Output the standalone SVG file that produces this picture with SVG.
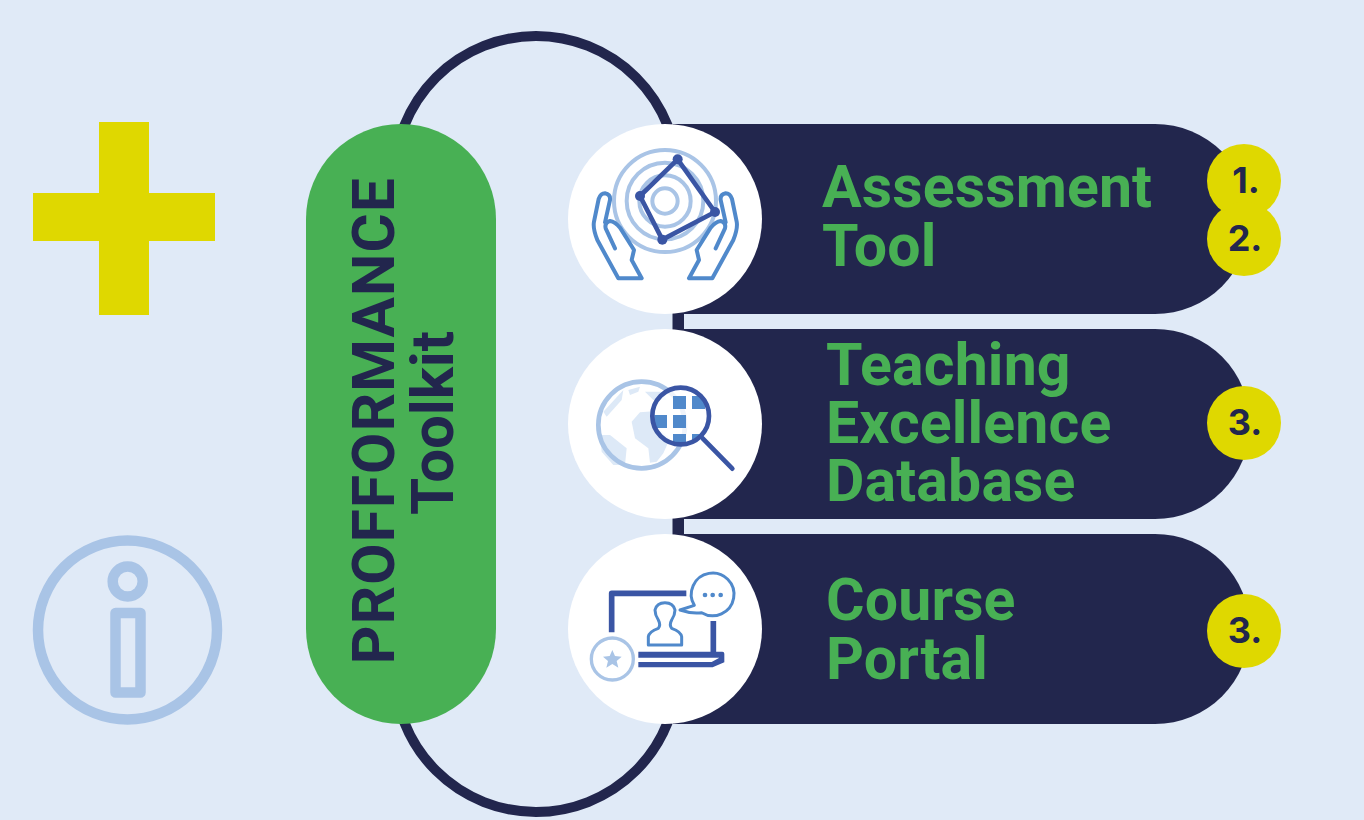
<svg xmlns="http://www.w3.org/2000/svg" width="1364" height="820" viewBox="0 0 1364 820">
<style>
.t{font-family:Roboto,"Liberation Sans",sans-serif;font-weight:700;font-size:59px;letter-spacing:.15px;fill:#48b054}
.v{font-family:Roboto,"Liberation Sans",sans-serif;font-weight:700;font-size:60px;fill:#22264d}
.n{font-family:Inter,"Liberation Sans",sans-serif;font-weight:700;font-size:36px;fill:#22264d;text-anchor:middle}
.bar{fill:#22264d}.disc{fill:#fff}.y{fill:#dfd800}
.lt{fill:none;stroke:#a9c4e6;stroke-width:12}
.md{fill:none;stroke:#5089cb;stroke-width:12;stroke-linecap:round;stroke-linejoin:round}
.thin{stroke-width:9}
.dk{fill:none;stroke:#3a55a4;stroke-width:14;stroke-linecap:round;stroke-linejoin:round}
.sq{fill:#5089cb}.land{fill:#dde9f7}
</style>
<defs>
<clipPath id="lens"><circle cx="362" cy="273" r="82"/></clipPath>
<g id="hand"><path class="md" d="M165,400 L137,340 Q133,322 150,318 Q165,320 180,338 L222,405 L215,435 L245,490 H175 L112,375 Q98,340 102,320 L116,252 Q122,235 135,235 Q152,238 150,255 L135,322"/></g>
</defs>
<rect width="1364" height="820" fill="#e0eaf7"/>
<g id="connectors" fill="none" stroke="#22264d" stroke-width="10">
<rect x="394.5" y="36" width="283" height="776" rx="141.5" ry="141.5"/>
<path d="M679,290V560"/>
</g>
<g id="plus"><path class="y" d="M99,122H149V193H215V241H149V315H99V241H33V193H99Z"/></g>
<g id="info" fill="none" stroke="#a9c4e6" stroke-width="10.5">
<circle cx="127.5" cy="630" r="89.5"/><circle cx="127.7" cy="581.5" r="15"/>
<rect x="115.5" y="613" width="25" height="79.5" stroke-linejoin="round"/>
</g>
<g id="toolkit">
<rect x="306" y="124" width="190" height="600" rx="95" fill="#48b054"/>
<text class="v" text-anchor="middle" letter-spacing="1.2" transform="translate(393.5,420.6) rotate(-90)">PROFFORMANCE</text>
<text class="v" text-anchor="middle" transform="translate(452.5,423) rotate(-90)">Toolkit</text>
</g>
<g id="assessment">
<rect class="bar" x="673" y="124" width="577" height="190" rx="95"/>
<rect class="bar" x="673" y="124" width="100" height="190"/>
<ellipse class="disc" cx="665" cy="219" rx="97" ry="95"/>
<g transform="translate(560,115) scale(.33333)">
<circle class="lt" cx="315" cy="258" r="153"/><circle class="lt" cx="315" cy="258" r="115"/><circle class="lt" cx="315" cy="258" r="77"/><circle class="lt" cx="315" cy="258" r="38"/>
<use href="#hand"/><use href="#hand" transform="matrix(-1 0 0 1 632 0)"/>
<path class="dk" d="M353,133L465,291L307,374L240,243Z"/>
<g fill="#3a55a4"><circle cx="353" cy="133" r="15"/><circle cx="465" cy="291" r="15"/><circle cx="307" cy="374" r="15"/><circle cx="240" cy="243" r="15"/></g>
</g>
<text class="t" x="822" y="207">Assessment</text><text class="t" x="822" y="266">Tool</text>
<circle class="y" cx="1244" cy="181" r="37"/><text class="n" x="1246" y="193">1.</text>
<circle class="y" cx="1244" cy="239" r="37"/><text class="n" x="1245" y="251">2.</text>
</g>
<g id="database">
<rect class="bar" x="673" y="329" width="577" height="190" rx="95"/>
<rect class="bar" x="673" y="329" width="100" height="190"/>
<ellipse class="disc" cx="665" cy="424" rx="97" ry="95"/>
<g transform="translate(560,325) scale(.33333)">
<path class="land" d="M205,195L240,185L235,200L210,210ZM130,260L190,195L185,225L140,275ZM255,200L305,200L320,225L280,225ZM215,290L240,262L290,258L270,290L330,340L310,385L290,410L270,413L265,370L225,340ZM120,330L150,330L200,370L195,420L160,420L125,380Z"/>
<circle cx="245" cy="300" r="130" fill="none" stroke="#a9c4e6" stroke-width="14"/>
<circle cx="362" cy="273" r="85" fill="#fff" fill-opacity=".8"/>
<g clip-path="url(#lens)"><rect class="sq" x="339" y="213" width="39" height="39"/><rect class="sq" x="396" y="213" width="39" height="39"/><rect class="sq" x="283" y="270" width="38" height="39"/><rect class="sq" x="339" y="270" width="39" height="39"/><rect class="sq" x="339" y="327" width="39" height="39"/><rect class="sq" x="396" y="327" width="39" height="39"/></g>
<circle class="dk" cx="362" cy="273" r="85"/>
<path class="dk" d="M428,340L517,431"/>
</g>
<text class="t" x="826" y="385">Teaching</text><text class="t" x="826" y="443">Excellence</text><text class="t" x="826" y="501">Database</text>
<circle class="y" cx="1244" cy="423" r="37"/><text class="n" x="1245" y="435">3.</text>
</g>
<g id="portal">
<rect class="bar" x="673" y="534" width="577" height="190" rx="95"/>
<rect class="bar" x="673" y="534" width="100" height="190"/>
<ellipse class="disc" cx="665" cy="629" rx="97" ry="95"/>
<g transform="translate(560,530) scale(.33333)">
<path d="M155,307V190H379M460,273V372" fill="none" stroke="#3a55a4" stroke-width="17" stroke-linejoin="round"/>
<path d="M235,365H487Q493,365 493,371V397L458,412H235V396H455L478,383H235Z" fill="#3a55a4"/>
<path class="md thin" d="M265,345V320Q267,305 295,295Q303,285 295,270Q285,255 285,240Q290,218 315,218Q340,218 345,240Q345,255 335,270Q327,285 335,295Q363,305 365,320V345Z"/>
<path class="md thin" d="M360,240L403,226A64,64 0 1 1 425,248Q395,252 360,240Z"/>
<g class="sq"><circle cx="435" cy="195" r="7"/><circle cx="458" cy="195" r="7"/><circle cx="482" cy="195" r="7"/></g>
<circle cx="157" cy="387" r="63" fill="#fff" stroke="#a9c4e6" stroke-width="10"/>
<path d="M157,360L165,378L185,380L170,393L175,413L157,402L139,413L144,393L129,380L149,378Z" fill="#a9c4e6"/>
</g>
<text class="t" x="826" y="620">Course</text><text class="t" x="826" y="679">Portal</text>
<circle class="y" cx="1244" cy="631" r="37"/><text class="n" x="1245" y="643">3.</text>
</g>
</svg>
